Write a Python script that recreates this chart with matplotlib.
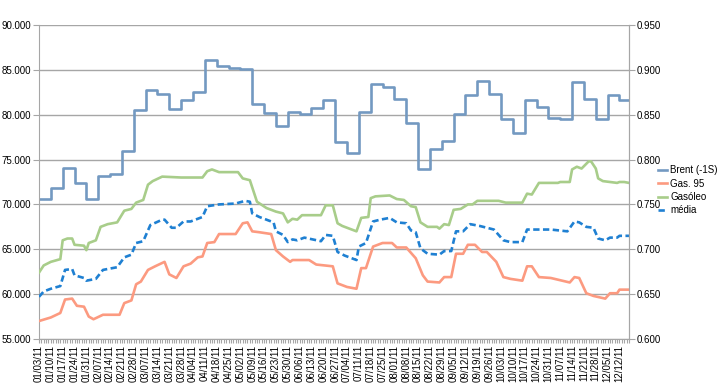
import numpy as np
import matplotlib
matplotlib.use("Agg")
import matplotlib.pyplot as plt
import matplotlib.transforms as mtransforms
from matplotlib.ticker import FormatStrFormatter, MultipleLocator

plt.rcParams["font.family"] = ["Liberation Sans", "DejaVu Sans"]

week_labels = [
    "01/03/11", "01/10/11", "01/17/11", "01/24/11", "01/31/11", "02/07/11",
    "02/14/11", "02/21/11", "02/28/11", "03/07/11", "03/14/11", "03/21/11",
    "03/28/11", "04/04/11", "04/11/11", "04/18/11", "04/25/11", "05/02/11",
    "05/09/11", "05/16/11", "05/23/11", "05/30/11", "06/06/11", "06/13/11",
    "06/20/11", "06/27/11", "07/04/11", "07/11/11", "07/18/11", "07/25/11",
    "08/01/11", "08/08/11", "08/15/11", "08/22/11", "08/29/11", "09/05/11",
    "09/12/11", "09/19/11", "09/26/11", "10/03/11", "10/10/11", "10/17/11",
    "10/24/11", "10/31/11", "11/07/11", "11/14/11", "11/21/11", "11/28/11",
    "12/05/11", "12/12/11",
]
n_days = 250  # business days on the category axis

# Brent (-1S), weekly values (left axis)
brent = [
    70.6, 71.8, 74.1, 72.4, 70.6, 73.2, 73.4, 75.9, 80.5, 82.7,
    82.3, 80.6, 81.6, 82.5, 86.1, 85.4, 85.2, 85.1, 81.2, 80.2,
    78.7, 80.3, 80.1, 80.7, 81.6, 77.0, 75.7, 80.3, 83.4, 83.1,
    81.7, 79.1, 73.9, 76.2, 77.1, 80.1, 82.2, 83.8, 82.3, 79.5,
    78.0, 81.6, 80.9, 79.6, 79.5, 83.7, 81.7, 79.5, 82.2, 81.6,
]

# daily series: (day index, value) on the right axis
gas95_day = [0, 5, 9, 11, 14, 16, 19, 21, 23, 27, 34, 36, 39, 41, 43, 46, 49,
             53, 55, 58, 61, 64, 67, 69, 71, 74, 76, 83, 86, 88, 90, 93, 98,
             100, 103, 106, 107, 114, 117, 124, 126, 130, 134, 136, 138, 141,
             145, 149, 151, 155, 159, 162, 164, 169, 171, 174, 176, 179, 181,
             184, 187, 189, 193, 196, 199, 204, 206, 208, 211, 216, 224, 226,
             228, 231, 234, 239, 241, 244, 245, 249]
gas95_val = [0.620, 0.624, 0.629, 0.644, 0.645, 0.637, 0.636, 0.625, 0.622,
             0.627, 0.627, 0.640, 0.643, 0.661, 0.664, 0.677, 0.681, 0.686,
             0.672, 0.668, 0.681, 0.684, 0.691, 0.692, 0.707, 0.708, 0.717,
             0.717, 0.729, 0.730, 0.720, 0.719, 0.717, 0.699, 0.692, 0.686,
             0.688, 0.688, 0.683, 0.681, 0.662, 0.658, 0.656, 0.679, 0.679,
             0.703, 0.707, 0.707, 0.702, 0.702, 0.690, 0.671, 0.664, 0.663,
             0.669, 0.669, 0.695, 0.695, 0.705, 0.705, 0.697, 0.697, 0.686,
             0.669, 0.667, 0.665, 0.681, 0.681, 0.669, 0.668, 0.663, 0.669,
             0.668, 0.651, 0.648, 0.645, 0.651, 0.651, 0.655, 0.655]

gasoleo_day = [0, 2, 5, 9, 10, 12, 14, 15, 19, 20, 21, 24, 26, 29, 33, 36, 39,
               41, 44, 46, 48, 52, 60, 69, 71, 73, 76, 84, 86, 89, 92, 96, 100,
               103, 105, 107, 109, 111, 119, 121, 124, 126, 128, 134, 136, 139,
               140, 142, 148, 151, 154, 157, 159, 161, 164, 168, 169, 171, 173,
               175, 178, 181, 183, 185, 194, 197, 204, 206, 208, 211, 214, 219,
               220, 224, 225, 227, 229, 232, 233, 235, 236, 238, 241, 244, 245,
               247, 249]
gasoleo_val = [0.674, 0.682, 0.686, 0.689, 0.710, 0.712, 0.712, 0.705, 0.704,
               0.699, 0.707, 0.710, 0.725, 0.728, 0.730, 0.743, 0.745, 0.752,
               0.755, 0.772, 0.776, 0.781, 0.780, 0.780, 0.787, 0.789, 0.786,
               0.786, 0.779, 0.777, 0.753, 0.746, 0.742, 0.740, 0.730, 0.734,
               0.733, 0.738, 0.738, 0.749, 0.749, 0.729, 0.726, 0.720, 0.735,
               0.736, 0.757, 0.759, 0.760, 0.756, 0.755, 0.748, 0.747, 0.730,
               0.725, 0.725, 0.723, 0.728, 0.727, 0.744, 0.745, 0.750, 0.750,
               0.754, 0.754, 0.752, 0.752, 0.762, 0.761, 0.774, 0.774, 0.774,
               0.775, 0.775, 0.789, 0.792, 0.790, 0.798, 0.798, 0.790, 0.779,
               0.776, 0.775, 0.774, 0.775, 0.775, 0.774]

media_day = [0, 2, 5, 9, 11, 14, 15, 19, 20, 24, 27, 33, 36, 39, 41, 44, 47,
             52, 53, 56, 58, 61, 64, 69, 71, 76, 83, 87, 89, 90, 93, 97, 99,
             100, 103, 105, 107, 109, 112, 119, 121, 124, 126, 129, 134, 135,
             138, 141, 144, 148, 151, 155, 157, 159, 161, 164, 169, 171, 174,
             176, 179, 182, 186, 192, 196, 199, 204, 206, 210, 216, 223, 226,
             228, 231, 234, 236, 239, 241, 244, 245, 247, 249]
media_val = [0.647, 0.653, 0.656, 0.659, 0.677, 0.678, 0.671, 0.668, 0.665,
             0.667, 0.677, 0.680, 0.691, 0.694, 0.707, 0.709, 0.727, 0.733,
             0.733, 0.724, 0.724, 0.731, 0.731, 0.736, 0.748, 0.750, 0.751,
             0.754, 0.753, 0.740, 0.736, 0.732, 0.730, 0.720, 0.716, 0.708,
             0.711, 0.710, 0.713, 0.709, 0.716, 0.715, 0.697, 0.693, 0.688,
             0.703, 0.707, 0.731, 0.733, 0.735, 0.730, 0.729, 0.721, 0.719,
             0.701, 0.695, 0.694, 0.698, 0.698, 0.720, 0.720, 0.728, 0.726,
             0.722, 0.710, 0.708, 0.708, 0.722, 0.722, 0.722, 0.720, 0.731,
             0.730, 0.725, 0.724, 0.712, 0.710, 0.713, 0.713, 0.715, 0.715,
             0.715]

GRID = "#a6a6a6"
C_BRENT = "#7399c1"
C_GAS = "#fc9a80"
C_GASOLEO = "#a8cd8a"
C_MEDIA = "#1f80d2"

fig = plt.figure(figsize=(7.18, 3.86), dpi=100)
ax = fig.add_axes([0.0543, 0.1218, 0.8217, 0.8134])
ax2 = ax.twinx()

brent_x = list(np.arange(len(brent)) * 5) + [n_days - 1]
brent_y = brent + [brent[-1]]
ax.plot(brent_x, brent_y, drawstyle="steps-post", color=C_BRENT,
        linewidth=1.9, label="Brent (-1S)")

l_gas, = ax2.plot(gas95_day, gas95_val, color=C_GAS, linewidth=1.9,
                  label="Gas. 95")
l_gso, = ax2.plot(gasoleo_day, gasoleo_val, color=C_GASOLEO, linewidth=1.9,
                  label="Gasóleo")
l_med, = ax2.plot(media_day, media_val, color=C_MEDIA, linewidth=1.9,
                  linestyle=(0, (2.4, 1.3)), label="média")

ax.set_xlim(0, n_days - 1)
ax.set_ylim(55, 90)
ax2.set_ylim(0.6, 0.95)
ax.yaxis.set_major_locator(MultipleLocator(5))
ax2.yaxis.set_major_locator(MultipleLocator(0.05))
ax.yaxis.set_major_formatter(FormatStrFormatter("%.3f"))
ax2.yaxis.set_major_formatter(FormatStrFormatter("%.3f"))

ax.set_xticks(np.arange(len(week_labels)) * 5)
ax.set_xticklabels(week_labels, rotation=90)
ax.set_xticks(np.arange(n_days), minor=True)

# Excel draws the date labels a few pixels left of their tick
shift = mtransforms.ScaledTranslation(-3 / 100, 0, fig.dpi_scale_trans)
for lbl in ax.get_xticklabels():
    lbl.set_transform(lbl.get_transform() + shift)

ax.grid(axis="y", color=GRID, linewidth=1)
ax.set_axisbelow(True)

for a in (ax, ax2):
    for s in a.spines.values():
        s.set_color(GRID)
    a.spines["top"].set_visible(False)
    a.tick_params(axis="both", which="both", color=GRID, labelsize=7,
                  length=3, width=0.8, pad=1.5)

ax2.spines["left"].set_visible(False)
ax2.spines["bottom"].set_visible(False)
ax.tick_params(axis="y", length=4)
ax2.tick_params(axis="y", length=4)

handles = [ax.get_lines()[0], l_gas, l_gso, l_med]
fig.legend(handles, [h.get_label() for h in handles],
           loc="center left", bbox_to_anchor=(0.916, 0.507),
           frameon=False, fontsize=7, handlelength=1.0, handletextpad=0.3,
           labelspacing=0.35, borderaxespad=0, borderpad=0)

fig.savefig("out.png", dpi=100)
